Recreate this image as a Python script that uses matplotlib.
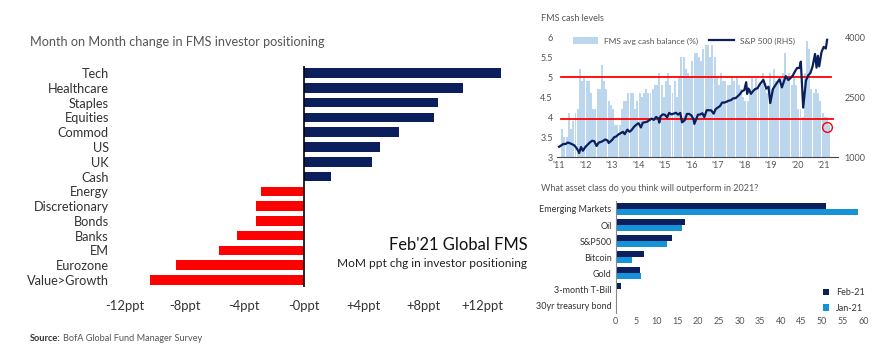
import matplotlib
matplotlib.use('Agg')
import matplotlib.pyplot as plt
import pandas as pd

plt.rcParams['font.family'] = ['Lato', 'DejaVu Sans']

# left chart: MoM change in positioning (ppt)
cats = ['Tech', 'Healthcare', 'Staples', 'Equities', 'Commod', 'US', 'UK', 'Cash',
        'Energy', 'Discretionary', 'Bonds', 'Banks', 'EM', 'Eurozone', 'Value>Growth']
chg = [13.2, 10.7, 9.0, 8.7, 6.4, 5.1, 4.6, 1.8,
       -2.9, -3.2, -3.2, -4.5, -5.7, -8.6, -10.3]
ppt_ticks = [-12, -8, -4, 0, 4, 8, 12]
ppt_labels = ['-12ppt', '-8ppt', '-4ppt', '-0ppt', '+4ppt', '+8ppt', '+12ppt']

# top right: FMS cash balance (monthly, Jan-11 .. Feb-21)
cash = [3.7, 3.5, 3.5, 4.1, 3.7, 3.9, 4.1, 4.2, 5.2, 4.9, 5.0, 4.9,
        4.9, 4.6, 4.2, 4.2, 4.7, 4.7, 5.3, 4.9, 4.7, 4.4, 4.3, 4.2,
        3.8, 3.8, 3.8, 4.2, 4.4, 4.4, 4.6, 4.6, 4.6, 4.2, 4.4, 4.6,
        4.5, 4.6, 4.7, 4.6, 4.6, 4.7, 4.8, 4.8, 5.1, 4.8, 4.5, 4.9,
        5.1, 4.8, 4.6, 4.9, 4.5, 5.0, 5.5, 5.5, 5.2, 5.1, 5.0, 5.4,
        5.6, 5.6, 5.5, 5.4, 5.7, 5.8, 5.8, 5.5, 5.8, 5.5, 5.0, 4.8,
        5.1, 4.9, 4.9, 4.8, 4.8, 5.0, 4.9, 5.0, 4.8, 4.7, 4.5, 4.4,
        4.4, 4.7, 5.0, 4.7, 5.0, 4.8, 4.8, 5.1, 4.7, 4.6, 5.1, 4.7,
        5.2, 4.9, 4.9, 5.0, 5.1, 5.6, 5.0, 5.1, 4.8, 5.0, 4.8, 4.2,
        4.2, 4.0, 5.1, 5.9, 5.7, 4.7, 4.6, 4.7, 4.6, 4.4, 4.1, 4.0,
        4.0, 3.8]
cash_months = pd.date_range('2011-01-15', periods=len(cash), freq='MS') + pd.Timedelta(days=14)

spx_dates = pd.to_datetime([
    '2011-01-01', '2011-02-28', '2011-03-31', '2011-04-30', '2011-05-31', '2011-06-30', '2011-07-31',
    '2011-08-31', '2011-09-30', '2011-10-03', '2011-10-31', '2011-11-25', '2011-12-31',
    '2012-01-31', '2012-02-29', '2012-03-31', '2012-04-30', '2012-06-01', '2012-06-30', '2012-07-31',
    '2012-08-31', '2012-09-30', '2012-10-31', '2012-11-15', '2012-12-31',
    '2013-01-31', '2013-02-28', '2013-03-31', '2013-04-30', '2013-05-31', '2013-06-24', '2013-07-31',
    '2013-08-31', '2013-09-30', '2013-10-31', '2013-11-30', '2013-12-31',
    '2014-02-03', '2014-02-28', '2014-03-31', '2014-04-30', '2014-05-31', '2014-06-30', '2014-07-31',
    '2014-08-31', '2014-09-30', '2014-10-15', '2014-10-31', '2014-11-30', '2014-12-31',
    '2015-01-31', '2015-02-28', '2015-03-31', '2015-04-30', '2015-05-31', '2015-06-30', '2015-07-31',
    '2015-08-25', '2015-09-30', '2015-10-31', '2015-11-30', '2015-12-31',
    '2016-01-31', '2016-02-11', '2016-03-31', '2016-04-30', '2016-05-31', '2016-06-27', '2016-07-31',
    '2016-08-31', '2016-09-30', '2016-11-04', '2016-11-30', '2016-12-31',
    '2017-01-31', '2017-02-28', '2017-03-31', '2017-04-30', '2017-05-31', '2017-06-30', '2017-07-31',
    '2017-08-31', '2017-09-30', '2017-10-31', '2017-11-30', '2017-12-31',
    '2018-01-26', '2018-02-08', '2018-02-28', '2018-04-02', '2018-04-30', '2018-05-31', '2018-06-30',
    '2018-07-31', '2018-09-20', '2018-10-31', '2018-11-30', '2018-12-24',
    '2019-01-31', '2019-02-28', '2019-04-30', '2019-06-03', '2019-07-26', '2019-08-31', '2019-09-30',
    '2019-10-31', '2019-11-30', '2019-12-31',
    '2020-01-31', '2020-02-19', '2020-03-23', '2020-04-30', '2020-05-31', '2020-06-30', '2020-07-31',
    '2020-09-02', '2020-09-23', '2020-10-12', '2020-10-30', '2020-11-30', '2020-12-31',
    '2021-01-29', '2021-02-16'])
spx = [1258, 1327, 1326, 1364, 1345, 1321, 1292,
       1219, 1131, 1099, 1253, 1158, 1258,
       1312, 1366, 1408, 1398, 1278, 1362, 1379,
       1406, 1441, 1412, 1353, 1426,
       1498, 1515, 1569, 1598, 1631, 1573, 1686,
       1633, 1682, 1757, 1806, 1848,
       1742, 1859, 1872, 1884, 1924, 1960, 1931,
       2003, 1972, 1862, 2018, 2068, 2059,
       1995, 2105, 2068, 2086, 2107, 2063, 2104,
       1868, 1920, 2079, 2080, 2044,
       1940, 1829, 2060, 2065, 2097, 2001, 2174,
       2171, 2168, 2085, 2199, 2239,
       2279, 2364, 2363, 2384, 2412, 2423, 2470,
       2472, 2519, 2575, 2648, 2674,
       2873, 2581, 2714, 2582, 2648, 2705, 2718,
       2816, 2931, 2712, 2760, 2351,
       2704, 2784, 2946, 2744, 3025, 2926, 2977,
       3038, 3141, 3231,
       3226, 3386, 2237, 2912, 3044, 3100, 3271,
       3580, 3237, 3534, 3270, 3622, 3756,
       3714, 3933]

# bottom right: asset class to outperform in 2021 (%)
assets = ['Emerging Markets', 'Oil', 'S&P500', 'Bitcoin', 'Gold', '3-month T-Bill', '30yr treasury bond']
feb21 = [51.0, 16.7, 13.7, 6.9, 5.9, 1.4, 0.4]
jan21 = [58.8, 16.0, 12.4, 4.0, 6.2, 0.4, 0.1]

navy = '#0b1f5c'
red = '#ff0000'
grey = '#555555'

fig = plt.figure(figsize=(8.91, 3.57), dpi=100)

# ---- left chart
ax = fig.add_axes([0.127, 0.195, 0.4566, 0.621])
ypos = list(range(len(cats)))
cols = [navy if v >= 0 else red for v in chg]
ax.barh(ypos, chg, height=0.65, color=cols, zorder=3)
ax.axvline(0, color='black', lw=1.2, zorder=4)
ax.set_ylim(len(cats) - 0.5, -0.5)
ax.set_xlim(-12.8, 14.5)
ax.set_yticks(ypos)
ax.set_yticklabels(cats, fontsize=9.2, color='#333333')
ax.set_xticks(ppt_ticks)
ax.set_xticklabels(ppt_labels, fontsize=9.4, color='#333333')
ax.tick_params(length=0, pad=3)
ax.tick_params(axis='x', pad=9)
for s in ax.spines.values():
    s.set_visible(False)

fig.text(0.034, 0.882, 'Month on Month change in FMS investor positioning',
         fontsize=9.1, color=grey, va='center')
fig.text(0.592, 0.314, "Feb'21 Global FMS", fontsize=11.9, ha='right', va='center', color='#111111')
fig.text(0.592, 0.262, 'MoM ppt chg in investor positioning', fontsize=8.6, ha='right',
         va='center', color='#222222')
fig.text(0.034, 0.053, 'Source:', fontsize=6.7, fontweight='bold', color='#333333', va='center')
fig.text(0.071, 0.053, 'BofA Global Fund Manager Survey', fontsize=6.6, color=grey, va='center')

# ---- top right chart
ax2 = fig.add_axes([0.625, 0.560, 0.315, 0.336])
ax2.bar(cash_months, cash, width=27, color='#bcd6ee', label='FMS avg cash balance (%)', zorder=1)
ax2.axhline(5.0, xmin=0.015, xmax=0.975, color=red, lw=1.3, zorder=5)
ax2.axhline(3.95, xmin=0.015, xmax=0.985, color=red, lw=1.3, zorder=5)
ax2.set_ylim(3, 6)
ax2.set_yticks([3, 3.5, 4, 4.5, 5, 5.5, 6])
ax2.set_yticklabels(['3', '3.5', '4', '4.5', '5', '5.5', '6'], fontsize=6.5, color=grey)
ax2.set_xlim(pd.Timestamp('2010-12-01'), pd.Timestamp('2021-07-10'))
yrs = pd.date_range('2011-01-01', '2021-01-01', freq='YS')
ax2.set_xticks(yrs)
ax2.set_xticklabels(["'" + str(y)[2:] for y in range(2011, 2022)], fontsize=6.5, color=grey)
ax2.tick_params(length=0, pad=3)
for k in ['top', 'left', 'right']:
    ax2.spines[k].set_visible(False)
ax2.spines['bottom'].set_color('#444444')

ax3 = ax2.twinx()
ax3.plot(spx_dates, spx, color=navy, lw=1.6, label='S&P 500 (RHS)', zorder=6)
ax3.plot([pd.Timestamp('2021-02-15')], [1750], marker='o', ms=7, mfc='none', mec=red, mew=1.0)
ax3.set_ylim(1000, 4000)
ax3.set_yticks([1000, 2500, 4000])
ax3.set_yticklabels(['1000', '2500', '4000'], fontsize=6.5, color=grey)
ax3.tick_params(length=0, pad=5)
for s in ax3.spines.values():
    s.set_visible(False)

h1, l1 = ax2.get_legend_handles_labels()
h2, l2 = ax3.get_legend_handles_labels()
ax3.legend(h1 + h2, l1 + l2, loc='upper left', bbox_to_anchor=(0.03, 1.06), ncol=2, frameon=False,
           fontsize=6, handlelength=3, handleheight=0.8, columnspacing=1.2, labelcolor=grey)

fig.text(0.607, 0.947, 'FMS cash levels', fontsize=6.5, color=grey, va='center')

# ---- bottom right chart
ax4 = fig.add_axes([0.691, 0.123, 0.278, 0.314])
ya = list(range(len(assets)))
ax4.barh([y - 0.18 for y in ya], feb21, height=0.34, color=navy, label='Feb-21')
ax4.barh([y + 0.18 for y in ya], jan21, height=0.34, color='#1592d8', label='Jan-21')
ax4.set_ylim(len(assets) - 0.5, -0.5)
ax4.set_xlim(0, 60)
ax4.set_xticks(range(0, 61, 5))
ax4.set_xticklabels([str(v) for v in range(0, 61, 5)], fontsize=6.5, color=grey)
ax4.set_yticks(ya)
ax4.set_yticklabels(assets, fontsize=6.5, color='#333333')
ax4.tick_params(length=0, pad=3)
for k in ['top', 'bottom', 'right']:
    ax4.spines[k].set_visible(False)
ax4.spines['left'].set_color('#888888')
ax4.legend(loc='lower right', bbox_to_anchor=(1.04, -0.07), frameon=False, fontsize=6.5,
           handlelength=0.7, handleheight=0.7, labelspacing=0.75, labelcolor='#333333')

fig.text(0.607, 0.473, 'What asset class do you think will outperform in 2021?', fontsize=6.5,
         color=grey, va='center')

fig.savefig('out.png', dpi=100)
